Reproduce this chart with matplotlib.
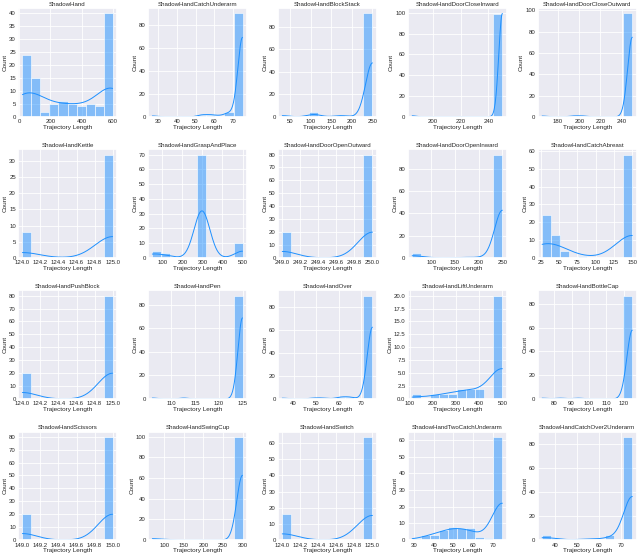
import numpy as np
import matplotlib
matplotlib.use("Agg")
import matplotlib.pyplot as plt
from matplotlib.ticker import MaxNLocator
import seaborn as sns

sns.set_theme(style="darkgrid")
plt.rcParams['font.family'] = ['Liberation Sans', 'DejaVu Sans']

task_names = [
    "ShadowHand", "ShadowHandCatchUnderarm", "ShadowHandBlockStack", "ShadowHandDoorCloseInward", "ShadowHandDoorCloseOutward",
    "ShadowHandKettle", "ShadowHandGraspAndPlace", "ShadowHandDoorOpenOutward", "ShadowHandDoorOpenInward", "ShadowHandCatchAbreast",
    "ShadowHandPushBlock", "ShadowHandPen", "ShadowHandOver", "ShadowHandLiftUnderarm", "ShadowHandBottleCap",
    "ShadowHandScissors", "ShadowHandSwingCup", "ShadowHandSwitch", "ShadowHandTwoCatchUnderarm", "ShadowHandCatchOver2Underarm",
]

# trajectory lengths (representative values) and how many episodes have them
shadowhand_values = [20, 108, 166, 224, 282, 340, 398, 456, 514, 600]
shadowhand_counts = [24, 15, 2, 5, 6, 5, 4, 5, 4, 40]
catchunderarm_values = [27, 53.4, 58.2, 63, 67.8, 75]
catchunderarm_counts = [1, 2, 2, 1, 4, 90]
blockstack_values = [30, 107, 173, 250]
blockstack_counts = [2, 4, 2, 92]
doorcloseinward_values = [185, 250]
doorcloseinward_counts = [1, 99]
doorcloseoutward_values = [165, 194.75, 203.25, 250]
doorcloseoutward_counts = [1, 1, 1, 97]
kettle_values = [124, 125]
kettle_counts = [8, 32]
graspandplace_values = [50, 117.5, 297.5, 500]
graspandplace_counts = [5, 3, 70, 10]
dooropenoutward_values = [249, 250]
dooropenoutward_counts = [20, 80]
dooropeninward_values = [60, 88.5, 164.5, 202.5, 250]
dooropeninward_counts = [4, 1, 1, 1, 93]
catchabreast_values = [27, 45.45, 57.75, 82.35, 150]
catchabreast_counts = [24, 13, 4, 1, 58]
pushblock_values = [124, 125]
pushblock_counts = [20, 80]
pen_values = [106, 112.65, 125]
pen_counts = [1, 1, 88]
over_values = [35, 49, 53, 61, 65, 75]
over_counts = [1, 1, 1, 2, 2, 90]
liftunderarm_values = [110, 207.5, 246.5, 285.5, 324.5, 363.5, 402.5, 500]
liftunderarm_counts = [1, 1, 1, 1, 2, 2, 2, 20]
bottlecap_values = [73, 83.4, 93.8, 125]
bottlecap_counts = [1, 1, 1, 87]
scissors_values = [149, 150]
scissors_counts = [20, 80]
swingcup_values = [70, 104.5, 300]
swingcup_counts = [2, 1, 100]
switch_values = [124, 125]
switch_counts = [16, 64]
twocatchunderarm_values = [29, 36.9, 40.5, 45.1, 49.7, 54.3, 58.9, 63.5, 68.1, 75]
twocatchunderarm_counts = [1, 3, 3, 6, 8, 7, 7, 2, 1, 62]
catchover2underarm_values = [34, 40.15, 52.45, 56.55, 64.75, 68.85, 75]
catchover2underarm_counts = [4, 2, 1, 1, 4, 1, 86]

all_values = [shadowhand_values, catchunderarm_values, blockstack_values, doorcloseinward_values, doorcloseoutward_values,
              kettle_values, graspandplace_values, dooropenoutward_values, dooropeninward_values, catchabreast_values,
              pushblock_values, pen_values, over_values, liftunderarm_values, bottlecap_values,
              scissors_values, swingcup_values, switch_values, twocatchunderarm_values, catchover2underarm_values]
all_counts = [shadowhand_counts, catchunderarm_counts, blockstack_counts, doorcloseinward_counts, doorcloseoutward_counts,
              kettle_counts, graspandplace_counts, dooropenoutward_counts, dooropeninward_counts, catchabreast_counts,
              pushblock_counts, pen_counts, over_counts, liftunderarm_counts, bottlecap_counts,
              scissors_counts, swingcup_counts, switch_counts, twocatchunderarm_counts, catchover2underarm_counts]

fig, axes = plt.subplots(4, 5, figsize=(6.4, 5.55), dpi=100)
fig.subplots_adjust(left=0.028, right=0.995, top=0.985, bottom=0.027, wspace=0.31, hspace=0.30)

nice_steps = [1, 2, 2.5, 5, 10]
for ax, name, vals, cnts in zip(axes.flat, task_names, all_values, all_counts):
    data = np.repeat(np.array(vals, dtype=float), cnts)
    sns.histplot(x=data, bins=10, kde=True, ax=ax, color="dodgerblue", alpha=0.5,
                 edgecolor="white", linewidth=0.4, line_kws={"linewidth": 0.7})
    ax.xaxis.set_major_locator(MaxNLocator(nbins=6, steps=nice_steps))
    ax.yaxis.set_major_locator(MaxNLocator(nbins=9, steps=nice_steps))
    ax.set_title(name, fontsize=4.4, pad=2, color="#262626")
    ax.set_xlabel("Trajectory Length", fontsize=4.6, labelpad=0.3, color="#262626")
    ax.set_ylabel("Count", fontsize=4.6, labelpad=1, color="#262626")
    ax.tick_params(axis="x", labelsize=4.3, pad=1.8, length=0, labelcolor="#262626")
    ax.tick_params(axis="y", labelsize=4.3, pad=1.5, length=0, labelcolor="#262626")
    for gl in ax.get_xgridlines() + ax.get_ygridlines():
        gl.set_linewidth(0.6)

fig.savefig("out.png", dpi=100)
